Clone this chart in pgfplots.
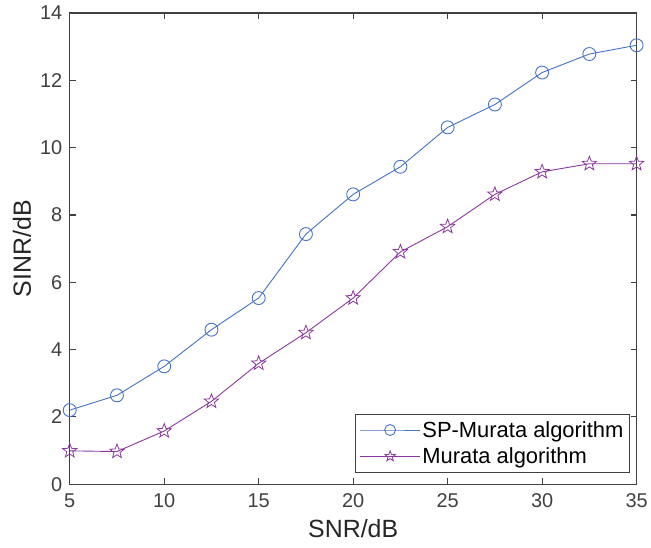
\documentclass[border=0pt]{standalone}
\usepackage{fontspec}
\setmainfont{Liberation Sans}
\usepackage{pgfplots}
\pgfplotsset{compat=1.18}
\definecolor{spblue}{RGB}{68,114,196}
\definecolor{mpurple}{RGB}{138,56,158}
\definecolor{axgray}{RGB}{64,64,64}
\pgfdeclareplotmark{ostar}{%
  \pgfpathmoveto{\pgfpointpolar{90}{\pgfplotmarksize}}%
  \pgfpathlineto{\pgfpointpolar{126}{0.42\pgfplotmarksize}}%
  \pgfpathlineto{\pgfpointpolar{162}{\pgfplotmarksize}}%
  \pgfpathlineto{\pgfpointpolar{198}{0.42\pgfplotmarksize}}%
  \pgfpathlineto{\pgfpointpolar{234}{\pgfplotmarksize}}%
  \pgfpathlineto{\pgfpointpolar{270}{0.42\pgfplotmarksize}}%
  \pgfpathlineto{\pgfpointpolar{306}{\pgfplotmarksize}}%
  \pgfpathlineto{\pgfpointpolar{342}{0.42\pgfplotmarksize}}%
  \pgfpathlineto{\pgfpointpolar{18}{\pgfplotmarksize}}%
  \pgfpathlineto{\pgfpointpolar{54}{0.42\pgfplotmarksize}}%
  \pgfpathclose
  \pgfusepathqstroke
}
\begin{document}
\begin{tikzpicture}
\path (-70pt,-64pt) rectangle (581pt,486pt);
\begin{axis}[
  at={(0,0)}, anchor=south west,
  scale only axis, width=569pt, height=473pt,
  xmin=5, xmax=35, ymin=0, ymax=14,
  xtick={5,10,...,35}, ytick={0,2,...,14},
  tick align=inside, major tick length=6pt,
  axis line style={axgray, line width=1.2pt},
  every tick/.style={axgray, line width=1.2pt},
  tick label style={font=\fontsize{20}{22}\selectfont, text=axgray},
  /pgf/number format/assume math mode=true,
  xticklabel style={yshift=-6pt},
  yticklabel style={xshift=-4pt},
  xlabel={SNR/dB}, ylabel={SINR/dB},
  label style={font=\fontsize{25}{27}\selectfont, text=black!85},
  xlabel style={yshift=-5pt},
  ylabel style={yshift=2pt},
  legend cell align=left,
  legend style={at={(axis description cs:0.988,0.025)}, anchor=south east,
    draw=axgray, line width=0.8pt, font=\fontsize{22}{24}\selectfont,
    inner xsep=4pt, inner ysep=5pt, row sep=5pt},
  legend image code/.code={\draw[mark repeat=2,mark phase=2,#1,mark size=5.5pt] plot coordinates {(0pt,0pt) (30pt,0pt) (60pt,0pt)};},
]
\addplot[spblue, line width=0.9pt, mark=o, mark size=6.5pt, mark options={line width=0.9pt}] coordinates {
(5,2.20) (7.5,2.64) (10,3.50) (12.5,4.59) (15,5.53) (17.5,7.43) (20,8.61) (22.5,9.43) (25,10.60) (27.5,11.28) (30,12.23) (32.5,12.78) (35,13.04)};
\addlegendentry{SP-Murata algorithm}
\addplot[mpurple, line width=0.9pt, mark=ostar, mark size=7.5pt, mark options={line width=0.8pt}] coordinates {
(5,0.99) (7.5,0.97) (10,1.58) (12.5,2.46) (15,3.59) (17.5,4.50) (20,5.53) (22.5,6.90) (25,7.65) (27.5,8.61) (30,9.28) (32.5,9.52) (35,9.52)};
\addlegendentry{Murata algorithm}
\end{axis}
\end{tikzpicture}
\end{document}
